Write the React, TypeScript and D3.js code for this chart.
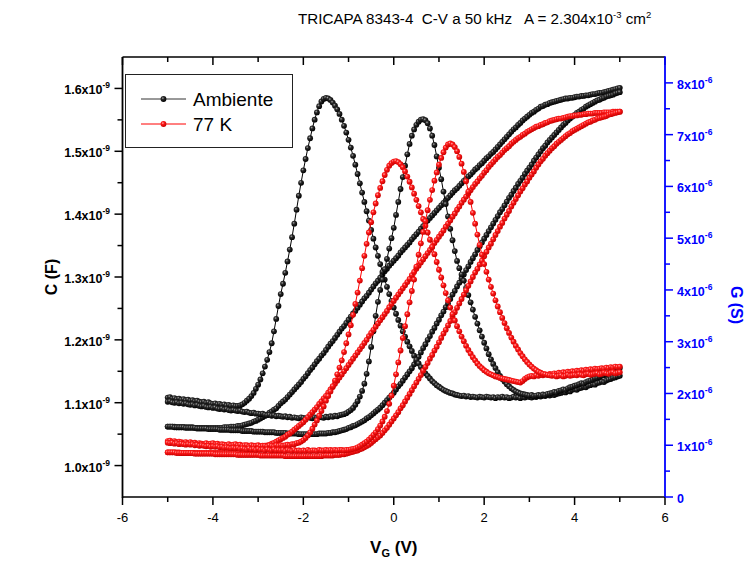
import React from 'react';
import * as d3 from 'd3';

const W = 750;
const H = 568;

// Gate-voltage sweep: -5 V to +5 V in 0.05 V steps (201 readings per sweep)
const V_START = -5;
const V_STEP = 0.05;

// Capacitance, units of 1e-9 F
const cAmbienteUp = [
  1.062, 1.062, 1.062, 1.062, 1.061, 1.061, 1.061, 1.061, 1.061, 1.061,
  1.061, 1.061, 1.060, 1.060, 1.060, 1.060, 1.060, 1.060, 1.060, 1.060,
  1.060, 1.060, 1.060, 1.060, 1.060, 1.061, 1.061, 1.061, 1.062, 1.062,
  1.062, 1.063, 1.063, 1.064, 1.065, 1.066, 1.067, 1.068, 1.070, 1.071,
  1.073, 1.075, 1.077, 1.079, 1.081, 1.084, 1.086, 1.089, 1.091, 1.095,
  1.099, 1.102, 1.105, 1.109, 1.113, 1.117, 1.121, 1.125, 1.129, 1.133,
  1.138, 1.142, 1.147, 1.152, 1.156, 1.161, 1.166, 1.170, 1.175, 1.179,
  1.184, 1.189, 1.194, 1.198, 1.203, 1.208, 1.213, 1.218, 1.222, 1.227,
  1.232, 1.237, 1.242, 1.246, 1.251, 1.256, 1.261, 1.266, 1.270, 1.275,
  1.280, 1.285, 1.290, 1.294, 1.299, 1.304, 1.309, 1.313, 1.318, 1.322,
  1.326, 1.330, 1.334, 1.339, 1.343, 1.347, 1.351, 1.355, 1.360, 1.364,
  1.368, 1.372, 1.377, 1.381, 1.386, 1.390, 1.394, 1.398, 1.402, 1.406,
  1.410, 1.414, 1.418, 1.422, 1.426, 1.430, 1.434, 1.438, 1.441, 1.445,
  1.449, 1.453, 1.456, 1.460, 1.463, 1.467, 1.471, 1.474, 1.478, 1.481,
  1.485, 1.489, 1.492, 1.496, 1.499, 1.503, 1.507, 1.511, 1.515, 1.519,
  1.523, 1.527, 1.531, 1.535, 1.538, 1.542, 1.545, 1.549, 1.552, 1.555,
  1.558, 1.561, 1.563, 1.566, 1.568, 1.571, 1.572, 1.574, 1.575, 1.577,
  1.578, 1.579, 1.580, 1.581, 1.582, 1.583, 1.584, 1.584, 1.585, 1.585,
  1.586, 1.587, 1.587, 1.588, 1.588, 1.589, 1.589, 1.590, 1.591, 1.591,
  1.592, 1.593, 1.593, 1.594, 1.595, 1.596, 1.597, 1.598, 1.599, 1.600,
  1.601,
];

const cAmbienteDown = [
  1.062, 1.062, 1.062, 1.061, 1.061, 1.061, 1.061, 1.061, 1.060, 1.060,
  1.060, 1.060, 1.060, 1.059, 1.059, 1.059, 1.059, 1.059, 1.058, 1.058,
  1.058, 1.058, 1.058, 1.057, 1.057, 1.057, 1.057, 1.057, 1.056, 1.056,
  1.056, 1.056, 1.056, 1.055, 1.055, 1.055, 1.055, 1.055, 1.054, 1.054,
  1.054, 1.054, 1.054, 1.053, 1.053, 1.053, 1.053, 1.053, 1.052, 1.052,
  1.052, 1.052, 1.052, 1.051, 1.051, 1.051, 1.051, 1.051, 1.050, 1.050,
  1.050, 1.050, 1.050, 1.050, 1.050, 1.050, 1.050, 1.051, 1.051, 1.051,
  1.051, 1.052, 1.052, 1.053, 1.053, 1.054, 1.055, 1.056, 1.057, 1.058,
  1.060, 1.061, 1.063, 1.064, 1.066, 1.068, 1.070, 1.072, 1.075, 1.077,
  1.080, 1.083, 1.086, 1.089, 1.092, 1.096, 1.100, 1.104, 1.108, 1.112,
  1.116, 1.121, 1.126, 1.130, 1.135, 1.140, 1.145, 1.150, 1.155, 1.161,
  1.166, 1.173, 1.180, 1.187, 1.193, 1.200, 1.206, 1.213, 1.219, 1.226,
  1.232, 1.239, 1.245, 1.252, 1.258, 1.265, 1.272, 1.278, 1.285, 1.291,
  1.298, 1.304, 1.311, 1.317, 1.324, 1.330, 1.336, 1.343, 1.349, 1.355,
  1.361, 1.367, 1.373, 1.379, 1.385, 1.391, 1.397, 1.403, 1.408, 1.414,
  1.420, 1.426, 1.431, 1.437, 1.442, 1.448, 1.453, 1.458, 1.464, 1.469,
  1.474, 1.479, 1.485, 1.490, 1.495, 1.500, 1.505, 1.509, 1.514, 1.518,
  1.522, 1.526, 1.530, 1.534, 1.538, 1.542, 1.545, 1.549, 1.552, 1.555,
  1.558, 1.561, 1.563, 1.566, 1.568, 1.571, 1.573, 1.575, 1.577, 1.579,
  1.581, 1.582, 1.584, 1.585, 1.587, 1.588, 1.589, 1.590, 1.592, 1.593,
  1.594,
];

const c77Up = [
  1.021, 1.021, 1.021, 1.021, 1.021, 1.021, 1.020, 1.020, 1.020, 1.020,
  1.020, 1.020, 1.020, 1.020, 1.020, 1.020, 1.020, 1.020, 1.020, 1.020,
  1.020, 1.020, 1.020, 1.020, 1.020, 1.021, 1.021, 1.021, 1.021, 1.021,
  1.022, 1.022, 1.022, 1.023, 1.023, 1.023, 1.024, 1.025, 1.025, 1.026,
  1.028, 1.029, 1.030, 1.031, 1.032, 1.033, 1.035, 1.036, 1.038, 1.040,
  1.042, 1.044, 1.046, 1.049, 1.051, 1.054, 1.057, 1.060, 1.063, 1.066,
  1.069, 1.073, 1.077, 1.081, 1.085, 1.089, 1.093, 1.098, 1.102, 1.107,
  1.111, 1.116, 1.121, 1.125, 1.130, 1.135, 1.140, 1.145, 1.150, 1.155,
  1.160, 1.165, 1.170, 1.175, 1.180, 1.185, 1.190, 1.195, 1.200, 1.206,
  1.211, 1.216, 1.221, 1.226, 1.231, 1.236, 1.241, 1.246, 1.252, 1.257,
  1.262, 1.267, 1.272, 1.277, 1.282, 1.287, 1.292, 1.297, 1.303, 1.308,
  1.313, 1.318, 1.323, 1.328, 1.333, 1.338, 1.343, 1.348, 1.354, 1.359,
  1.364, 1.369, 1.374, 1.380, 1.385, 1.390, 1.396, 1.401, 1.407, 1.412,
  1.418, 1.423, 1.428, 1.433, 1.438, 1.443, 1.448, 1.452, 1.457, 1.461,
  1.466, 1.470, 1.475, 1.479, 1.483, 1.487, 1.491, 1.494, 1.498, 1.502,
  1.505, 1.508, 1.512, 1.515, 1.518, 1.521, 1.523, 1.526, 1.528, 1.531,
  1.533, 1.535, 1.537, 1.539, 1.540, 1.542, 1.543, 1.545, 1.546, 1.548,
  1.549, 1.550, 1.551, 1.552, 1.552, 1.553, 1.554, 1.555, 1.556, 1.556,
  1.557, 1.557, 1.558, 1.558, 1.559, 1.559, 1.560, 1.560, 1.560, 1.561,
  1.561, 1.561, 1.561, 1.562, 1.562, 1.562, 1.562, 1.563, 1.563, 1.563,
  1.563,
];

const c77Down = [
  1.021, 1.021, 1.021, 1.021, 1.020, 1.020, 1.020, 1.020, 1.020, 1.020,
  1.020, 1.020, 1.019, 1.019, 1.019, 1.019, 1.019, 1.019, 1.019, 1.019,
  1.019, 1.018, 1.018, 1.018, 1.018, 1.018, 1.018, 1.018, 1.018, 1.018,
  1.018, 1.017, 1.017, 1.017, 1.017, 1.017, 1.017, 1.017, 1.017, 1.017,
  1.017, 1.016, 1.016, 1.016, 1.016, 1.016, 1.016, 1.016, 1.016, 1.016,
  1.016, 1.016, 1.015, 1.015, 1.015, 1.015, 1.015, 1.015, 1.015, 1.015,
  1.015, 1.015, 1.015, 1.015, 1.015, 1.015, 1.015, 1.015, 1.015, 1.016,
  1.016, 1.016, 1.016, 1.016, 1.017, 1.017, 1.017, 1.018, 1.018, 1.019,
  1.020, 1.021, 1.022, 1.023, 1.024, 1.026, 1.027, 1.029, 1.031, 1.033,
  1.036, 1.039, 1.042, 1.045, 1.048, 1.052, 1.056, 1.060, 1.065, 1.070,
  1.075, 1.080, 1.085, 1.091, 1.096, 1.102, 1.108, 1.114, 1.120, 1.126,
  1.132, 1.138, 1.144, 1.151, 1.157, 1.163, 1.170, 1.176, 1.183, 1.189,
  1.196, 1.203, 1.210, 1.216, 1.223, 1.230, 1.237, 1.244, 1.251, 1.258,
  1.265, 1.272, 1.279, 1.286, 1.293, 1.300, 1.307, 1.313, 1.320, 1.326,
  1.333, 1.340, 1.347, 1.353, 1.360, 1.367, 1.373, 1.380, 1.386, 1.393,
  1.399, 1.405, 1.412, 1.418, 1.424, 1.430, 1.436, 1.441, 1.447, 1.452,
  1.458, 1.463, 1.468, 1.474, 1.479, 1.484, 1.488, 1.493, 1.497, 1.501,
  1.505, 1.508, 1.512, 1.515, 1.518, 1.521, 1.524, 1.527, 1.529, 1.532,
  1.534, 1.536, 1.538, 1.540, 1.542, 1.544, 1.546, 1.547, 1.549, 1.550,
  1.552, 1.553, 1.554, 1.555, 1.556, 1.558, 1.559, 1.560, 1.561, 1.562,
  1.563,
];

// Conductance, units of 1e-6 S
const gAmbienteA = [
  1.92, 1.93, 1.90, 1.91, 1.89, 1.90, 1.88, 1.89, 1.87, 1.88,
  1.86, 1.87, 1.85, 1.86, 1.84, 1.83, 1.84, 1.82, 1.83, 1.81,
  1.80, 1.81, 1.79, 1.80, 1.78, 1.79, 1.77, 1.78, 1.76, 1.77,
  1.76, 1.76, 1.77, 1.79, 1.82, 1.86, 1.90, 1.95, 2.01, 2.09,
  2.17, 2.27, 2.39, 2.52, 2.65, 2.80, 2.97, 3.20, 3.44, 3.69,
  3.92, 4.12, 4.33, 4.55, 4.78, 5.02, 5.28, 5.55, 5.82, 6.07,
  6.31, 6.53, 6.74, 6.93, 7.12, 7.29, 7.43, 7.55, 7.64, 7.69,
  7.71, 7.70, 7.67, 7.62, 7.56, 7.49, 7.40, 7.29, 7.17, 7.04,
  6.90, 6.75, 6.59, 6.42, 6.24, 6.06, 5.88, 5.70, 5.52, 5.34,
  5.16, 4.99, 4.82, 4.66, 4.50, 4.35, 4.20, 4.06, 3.92, 3.79,
  3.66, 3.54, 3.42, 3.31, 3.20, 3.10, 3.00, 2.91, 2.82, 2.73,
  2.65, 2.58, 2.51, 2.45, 2.39, 2.34, 2.29, 2.24, 2.20, 2.16,
  2.13, 2.10, 2.07, 2.05, 2.03, 2.01, 2.00, 1.98, 1.97, 1.96,
  1.95, 1.96, 1.94, 1.95, 1.93, 1.94, 1.93, 1.92, 1.94, 1.93,
  1.92, 1.94, 1.93, 1.92, 1.93, 1.91, 1.93, 1.92, 1.94, 1.92,
  1.93, 1.91, 1.92, 1.94, 1.92, 1.93, 1.91, 1.93, 1.92, 1.94,
  1.93, 1.92, 1.94, 1.93, 1.95, 1.94, 1.96, 1.95, 1.97, 1.96,
  1.98, 1.97, 1.99, 2.00, 2.01, 2.03, 2.02, 2.05, 2.04, 2.07,
  2.08, 2.07, 2.10, 2.11, 2.13, 2.12, 2.15, 2.16, 2.18, 2.17,
  2.20, 2.21, 2.23, 2.22, 2.25, 2.27, 2.28, 2.30, 2.31, 2.33,
  2.34,
];

const gAmbienteB = [
  1.84, 1.85, 1.83, 1.82, 1.83, 1.81, 1.82, 1.80, 1.81, 1.79,
  1.78, 1.79, 1.77, 1.78, 1.76, 1.75, 1.76, 1.74, 1.73, 1.74,
  1.72, 1.73, 1.71, 1.70, 1.71, 1.69, 1.70, 1.68, 1.67, 1.68,
  1.67, 1.66, 1.67, 1.65, 1.64, 1.65, 1.63, 1.62, 1.63, 1.61,
  1.61, 1.60, 1.61, 1.59, 1.58, 1.59, 1.57, 1.58, 1.56, 1.57,
  1.56, 1.55, 1.56, 1.54, 1.55, 1.53, 1.54, 1.53, 1.52, 1.54,
  1.53, 1.52, 1.54, 1.53, 1.52, 1.54, 1.53, 1.55, 1.54, 1.53,
  1.55, 1.54, 1.56, 1.55, 1.57, 1.56, 1.58, 1.59, 1.60, 1.62,
  1.65, 1.68, 1.72, 1.78, 1.85, 1.94, 2.05, 2.19, 2.38, 2.62,
  2.90, 3.20, 3.50, 3.77, 4.00, 4.20, 4.40, 4.60, 4.80, 5.00,
  5.20, 5.45, 5.70, 5.95, 6.18, 6.40, 6.62, 6.82, 6.98, 7.10,
  7.19, 7.25, 7.29, 7.30, 7.28, 7.22, 7.12, 6.98, 6.80, 6.58,
  6.36, 6.14, 5.90, 5.66, 5.42, 5.18, 4.96, 4.75, 4.56, 4.42,
  4.30, 4.18, 4.04, 3.90, 3.76, 3.62, 3.48, 3.35, 3.22, 3.10,
  2.98, 2.87, 2.76, 2.66, 2.57, 2.49, 2.41, 2.34, 2.28, 2.23,
  2.18, 2.14, 2.10, 2.07, 2.04, 2.02, 2.00, 1.99, 1.98, 1.97,
  1.96, 1.97, 1.95, 1.96, 1.97, 1.96, 1.98, 1.97, 1.99, 2.00,
  2.01, 2.03, 2.02, 2.05, 2.06, 2.08, 2.07, 2.10, 2.12, 2.13,
  2.15, 2.16, 2.18, 2.20, 2.19, 2.22, 2.24, 2.25, 2.27, 2.29,
  2.30, 2.32, 2.34, 2.35, 2.37, 2.39, 2.41, 2.43, 2.45, 2.47,
  2.49,
];

const g77A = [
  1.08, 1.09, 1.07, 1.08, 1.06, 1.07, 1.06, 1.05, 1.06, 1.04,
  1.06, 1.04, 1.05, 1.03, 1.04, 1.03, 1.02, 1.04, 1.02, 1.03,
  1.04, 1.02, 1.03, 1.01, 1.02, 1.01, 1.00, 1.02, 1.00, 1.01,
  1.02, 1.00, 1.01, 0.99, 1.00, 1.00, 0.98, 1.00, 0.99, 0.99,
  1.00, 0.98, 0.99, 0.99, 0.98, 1.00, 0.99, 0.98, 1.00, 0.99,
  1.00, 0.99, 1.00, 1.01, 1.00, 1.02, 1.02, 1.04, 1.05, 1.07,
  1.10, 1.14, 1.19, 1.25, 1.32, 1.40, 1.48, 1.57, 1.66, 1.75,
  1.86, 1.95, 2.04, 2.14, 2.25, 2.37, 2.50, 2.64, 2.80, 2.97,
  3.14, 3.32, 3.52, 3.73, 3.95, 4.18, 4.42, 4.66, 4.89, 5.11,
  5.31, 5.50, 5.67, 5.83, 5.97, 6.10, 6.22, 6.32, 6.40, 6.45,
  6.48, 6.49, 6.47, 6.43, 6.37, 6.29, 6.19, 6.09, 5.98, 5.86,
  5.74, 5.62, 5.50, 5.37, 5.24, 5.11, 4.97, 4.83, 4.69, 4.54,
  4.39, 4.24, 4.09, 3.94, 3.80, 3.66, 3.53, 3.41, 3.30, 3.20,
  3.10, 3.01, 2.92, 2.84, 2.77, 2.70, 2.64, 2.58, 2.53, 2.49,
  2.45, 2.42, 2.39, 2.37, 2.35, 2.33, 2.32, 2.30, 2.29, 2.28,
  2.27, 2.26, 2.25, 2.24, 2.23, 2.22, 2.21, 2.24, 2.28, 2.31,
  2.33, 2.34, 2.33, 2.35, 2.34, 2.36, 2.35, 2.37, 2.36, 2.38,
  2.37, 2.39, 2.38, 2.40, 2.39, 2.41, 2.40, 2.42, 2.41, 2.43,
  2.42, 2.44, 2.43, 2.45, 2.44, 2.46, 2.45, 2.47, 2.46, 2.48,
  2.47, 2.48, 2.49, 2.48, 2.50, 2.49, 2.51, 2.50, 2.52, 2.51,
  2.52,
];

const g77B = [
  1.05, 1.04, 1.05, 1.03, 1.04, 1.02, 1.03, 1.02, 1.01, 1.02,
  1.01, 1.02, 1.00, 1.01, 0.99, 1.00, 0.99, 0.98, 0.99, 0.97,
  0.98, 0.97, 0.98, 0.96, 0.97, 0.95, 0.96, 0.95, 0.94, 0.95,
  0.94, 0.95, 0.93, 0.94, 0.93, 0.92, 0.94, 0.92, 0.93, 0.91,
  0.93, 0.91, 0.92, 0.90, 0.92, 0.91, 0.90, 0.92, 0.90, 0.91,
  0.90, 0.91, 0.89, 0.91, 0.90, 0.89, 0.91, 0.89, 0.90, 0.89,
  0.90, 0.89, 0.91, 0.89, 0.90, 0.90, 0.89, 0.91, 0.90, 0.90,
  0.91, 0.90, 0.91, 0.90, 0.91, 0.90, 0.91, 0.91, 0.90, 0.91,
  0.91, 0.92, 0.93, 0.94, 0.96, 0.98, 1.01, 1.04, 1.07, 1.11,
  1.15, 1.20, 1.25, 1.31, 1.38, 1.46, 1.55, 1.66, 1.80, 1.96,
  2.15, 2.37, 2.60, 2.83, 3.07, 3.30, 3.53, 3.76, 3.98, 4.20,
  4.45, 4.68, 4.90, 5.12, 5.33, 5.54, 5.74, 5.93, 6.11, 6.27,
  6.42, 6.55, 6.66, 6.75, 6.81, 6.83, 6.81, 6.76, 6.68, 6.57,
  6.44, 6.28, 6.10, 5.90, 5.70, 5.49, 5.28, 5.07, 4.87, 4.68,
  4.50, 4.35, 4.20, 4.06, 3.93, 3.80, 3.68, 3.57, 3.46, 3.36,
  3.26, 3.17, 3.08, 3.00, 2.92, 2.85, 2.78, 2.72, 2.66, 2.61,
  2.56, 2.52, 2.48, 2.45, 2.42, 2.40, 2.38, 2.37, 2.36, 2.35,
  2.34, 2.35, 2.33, 2.34, 2.35, 2.33, 2.34, 2.36, 2.34, 2.35,
  2.36, 2.35, 2.37, 2.36, 2.35, 2.37, 2.38, 2.36, 2.37, 2.38,
  2.39, 2.37, 2.38, 2.40, 2.39, 2.38, 2.40, 2.41, 2.39, 2.40,
  2.41,
];

// Axis ticks
const xMajorTicks = [-6, -4, -2, 0, 2, 4, 6];
const xMinorTicks = [-5, -3, -1, 1, 3, 5];
const cMajorTicks = [1.0, 1.1, 1.2, 1.3, 1.4, 1.5, 1.6];
const cMinorTicks = [1.05, 1.15, 1.25, 1.35, 1.45, 1.55];
const gMajorTicks = [0, 1, 2, 3, 4, 5, 6, 7, 8];
const gMinorTicks = [0.5, 1.5, 2.5, 3.5, 4.5, 5.5, 6.5, 7.5];

const legendNames = ['Ambiente', '77 K'];

const FONT = "'Liberation Sans', Arial, Helvetica, sans-serif";
const BLUE = '#0000ff';

export default function App() {
  const left = 122.5;
  const right = 665;
  const top = 57;
  const bottom = 497;

  const x = d3.scaleLinear().domain([-6, 6]).range([left, right]);
  const yC = d3.scaleLinear().domain([0.95, 1.65]).range([bottom, top]);
  const yG = d3.scaleLinear().domain([0, 8.5]).range([bottom, top]);

  const volt = (i: number) => V_START + i * V_STEP;

  const series = [
    { id: 'cAmbUp', values: cAmbienteUp, y: yC, stroke: '#000', fill: 'url(#ballBlack)' },
    { id: 'cAmbDown', values: cAmbienteDown, y: yC, stroke: '#000', fill: 'url(#ballBlack)' },
    { id: 'gAmbA', values: gAmbienteA, y: yG, stroke: '#000', fill: 'url(#ballBlack)' },
    { id: 'gAmbB', values: gAmbienteB, y: yG, stroke: '#000', fill: 'url(#ballBlack)' },
    { id: 'c77Up', values: c77Up, y: yC, stroke: '#ff0000', fill: 'url(#ballRed)' },
    { id: 'c77Down', values: c77Down, y: yC, stroke: '#ff0000', fill: 'url(#ballRed)' },
    { id: 'g77A', values: g77A, y: yG, stroke: '#ff0000', fill: 'url(#ballRed)' },
    { id: 'g77B', values: g77B, y: yG, stroke: '#ff0000', fill: 'url(#ballRed)' },
  ];

  const pathFor = (vals: number[], y: d3.ScaleLinear<number, number>) =>
    d3
      .line<number>()
      .x((_, i) => x(volt(i)))
      .y((d) => y(d))(vals) || '';

  const R = 2.9;

  return (
    <svg
      width={W}
      height={H}
      viewBox={`0 0 ${W} ${H}`}
      style={{ position: 'absolute', left: 0, top: 0, background: '#fff' }}
      fontFamily={FONT}
    >
      <defs>
        <radialGradient id="ballBlack" cx="38%" cy="35%" r="65%">
          <stop offset="0%" stopColor="#a8a8a8" />
          <stop offset="35%" stopColor="#2a2a2a" />
          <stop offset="100%" stopColor="#000" />
        </radialGradient>
        <radialGradient id="ballRed" cx="38%" cy="35%" r="65%">
          <stop offset="0%" stopColor="#ffb0b0" />
          <stop offset="35%" stopColor="#ff1a1a" />
          <stop offset="100%" stopColor="#c80000" />
        </radialGradient>
      </defs>

      <rect x={0} y={0} width={W} height={H} fill="#fff" />

      {/* Title */}
      <text x={298} y={24} fontSize={15.2} fill="#000" style={{ whiteSpace: 'pre' }}>
        {'TRICAPA 8343-4  C-V a 50 kHz   A = 2.304x10'}
        <tspan dy={-6} fontSize={9.5}>-3</tspan>
        <tspan dy={6}>{' cm'}</tspan>
        <tspan dy={-6} fontSize={9.5}>2</tspan>
      </text>

      {/* Data */}
      <g>
        {series.map((s) => (
          <g key={s.id}>
            <path d={pathFor(s.values, s.y)} fill="none" stroke={s.stroke} strokeWidth={1} />
            {s.values.map((v, i) => (
              <circle key={i} cx={x(volt(i))} cy={s.y(v)} r={R} fill={s.fill} />
            ))}
          </g>
        ))}
      </g>

      {/* Frame: bottom and top axes */}
      <line x1={left} x2={right} y1={bottom} y2={bottom} stroke="#000" strokeWidth={1.5} />
      <line x1={left} x2={right} y1={top} y2={top} stroke="#000" strokeWidth={1.5} />
      {xMajorTicks.map((t) => (
        <g key={`xM${t}`}>
          <line x1={x(t)} x2={x(t)} y1={bottom} y2={bottom + 8} stroke="#000" strokeWidth={1.5} />
          <line x1={x(t)} x2={x(t)} y1={top} y2={top + 8} stroke="#000" strokeWidth={1.5} />
          <text x={x(t)} y={bottom + 25} fontSize={13} textAnchor="middle" fill="#000">
            {t}
          </text>
        </g>
      ))}
      {xMinorTicks.map((t) => (
        <g key={`xm${t}`}>
          <line x1={x(t)} x2={x(t)} y1={bottom} y2={bottom + 5} stroke="#000" strokeWidth={1.5} />
          <line x1={x(t)} x2={x(t)} y1={top} y2={top + 5} stroke="#000" strokeWidth={1.5} />
        </g>
      ))}

      {/* Left axis: capacitance */}
      <line x1={left} x2={left} y1={top} y2={bottom + 0.75} stroke="#000" strokeWidth={1.8} />
      {cMajorTicks.map((t) => (
        <g key={`cM${t}`}>
          <line x1={left - 8} x2={left} y1={yC(t)} y2={yC(t)} stroke="#000" strokeWidth={1.5} />
          <text x={110} y={yC(t) + 6} fontSize={12.5} fontWeight="bold" textAnchor="end" fill="#000">
            {`${t.toFixed(1)}x10`}
            <tspan dy={-6} fontSize={8.5}>-9</tspan>
          </text>
        </g>
      ))}
      {cMinorTicks.map((t) => (
        <line key={`cm${t}`} x1={left - 5} x2={left} y1={yC(t)} y2={yC(t)} stroke="#000" strokeWidth={1.5} />
      ))}
      <text
        transform={`translate(57, ${yC(1.3)}) rotate(-90)`}
        fontSize={16}
        fontWeight="bold"
        textAnchor="middle"
        fill="#000"
      >
        C (F)
      </text>

      {/* Right axis: conductance */}
      <line x1={right} x2={right} y1={top - 0.75} y2={bottom} stroke={BLUE} strokeWidth={1.8} />
      {gMajorTicks.map((t) => (
        <g key={`gM${t}`}>
          <line x1={right} x2={right + 8} y1={yG(t)} y2={yG(t)} stroke={BLUE} strokeWidth={1.5} />
          <text x={677} y={yG(t) + 6} fontSize={12.5} fontWeight="bold" fill={BLUE}>
            {t === 0 ? '0' : `${t}x10`}
            {t === 0 ? null : (
              <tspan dy={-6} fontSize={8.5}>
                -6
              </tspan>
            )}
          </text>
        </g>
      ))}
      {gMinorTicks.map((t) => (
        <line key={`gm${t}`} x1={right} x2={right + 5} y1={yG(t)} y2={yG(t)} stroke={BLUE} strokeWidth={1.5} />
      ))}
      <text
        transform={`translate(731, 305) rotate(90)`}
        fontSize={16}
        fontWeight="bold"
        textAnchor="middle"
        fill={BLUE}
      >
        G (S)
      </text>

      {/* X axis title */}
      <text x={x(0)} y={553} fontSize={17} fontWeight="bold" textAnchor="middle" fill="#000">
        V<tspan dy={4} fontSize={11}>G</tspan>
        <tspan dy={-4}>{' (V)'}</tspan>
      </text>

      {/* Legend */}
      <rect x={125.5} y={74.5} width={167} height={73} fill="#fff" stroke="#222" strokeWidth={1} />
      {legendNames.map((name, k) => {
        const ly = 99 + k * 25;
        const isRed = k === 1;
        return (
          <g key={name}>
            <line x1={141} x2={186} y1={ly} y2={ly} stroke={isRed ? '#ff0000' : '#333'} strokeWidth={1} />
            <circle cx={163.5} cy={ly} r={2.9} fill={isRed ? 'url(#ballRed)' : 'url(#ballBlack)'} />
            <text x={193} y={ly + 7} fontSize={19} fill="#000">
              {name}
            </text>
          </g>
        );
      })}
    </svg>
  );
}
